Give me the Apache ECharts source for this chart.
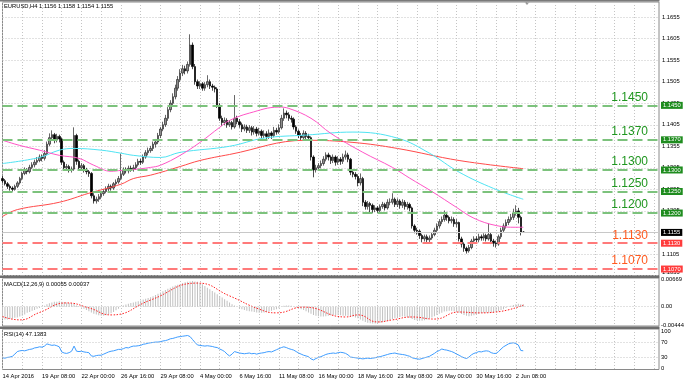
<!DOCTYPE html>
<html><head><meta charset="utf-8">
<script src="https://cdn.jsdelivr.net/npm/echarts/dist/echarts.min.js"></script>
<style>html,body{margin:0;padding:0;background:#fff}#c{width:685px;height:384px}</style>
</head><body><div id="c"></div>
<script>
// ---- data (prices in pips above 1.1000) ----
const opens = [280,275,268,262,258,255,262,270,280,292,
300,296,306,312,318,322,330,327,338,360,
375,382,370,378,372,318,305,308,300,302,
380,320,305,310,300,296,292,240,228,232,
238,245,250,256,262,258,268,272,280,290,
300,298,304,302,305,312,320,318,330,340,
345,350,360,365,380,395,405,420,440,455,
470,490,510,525,535,530,545,590,540,505,
495,500,490,498,505,495,492,488,450,420,
410,415,405,410,400,420,412,405,395,400,
392,398,388,395,385,390,380,384,378,386,
380,392,388,398,420,432,428,420,418,400,
390,380,375,385,378,375,330,300,305,310,
315,325,335,330,322,330,318,325,320,330,
335,325,295,290,285,270,280,225,215,222,
218,208,212,206,215,220,212,225,225,232,
220,228,218,225,215,220,212,170,160,158,
148,140,145,138,142,150,160,170,180,185,
195,190,182,185,175,178,140,128,118,112,
120,135,140,138,145,142,148,140,150,135,
130,128,145,160,170,178,185,190,200,205,
190,156];
const closes = [275,268,262,258,255,262,270,280,292,300,
296,306,312,318,322,330,327,338,360,375,
382,370,378,372,318,305,308,300,302,380,
320,305,310,300,296,292,240,228,232,238,
245,250,256,262,258,268,272,280,290,300,
298,304,302,305,312,320,318,330,340,345,
350,360,365,380,395,405,420,440,455,470,
490,510,525,535,530,545,590,540,505,495,
500,490,498,505,495,492,488,450,420,410,
415,405,410,400,420,412,405,395,400,392,
398,388,395,385,390,380,384,378,386,380,
392,388,398,420,432,428,420,418,400,390,
380,375,385,378,375,330,300,305,310,315,
325,335,330,322,330,318,325,320,330,335,
325,295,290,285,270,280,225,215,222,218,
208,212,206,215,220,212,225,225,232,220,
228,218,225,215,220,212,170,160,158,148,
140,145,138,142,150,160,170,180,185,195,
190,182,185,175,178,140,128,118,112,120,
135,140,138,145,142,148,140,150,135,130,
128,145,160,170,178,185,190,200,205,190,
156,155];
const highs = [286,279,272,266,262,266,274,284,296,306,
304,312,318,324,330,336,336,346,366,385,
392,386,384,382,375,322,314,312,308,399,
384,324,316,314,305,300,295,246,238,244,
250,256,262,268,266,272,278,286,338,306,
306,310,310,312,318,326,326,336,346,352,
356,366,372,386,400,412,428,446,462,478,
498,518,534,544,542,552,615,596,546,510,
506,504,504,520,510,500,496,492,455,426,
422,420,416,414,474,426,418,410,406,405,
404,402,402,400,398,394,392,390,394,390,
400,398,406,428,443,438,434,426,422,404,
394,386,392,390,384,378,334,312,316,322,
332,341,340,334,336,334,332,330,338,345,
340,328,300,295,290,292,284,230,228,226,
222,218,216,220,226,224,232,234,246,236,
234,232,232,230,226,224,215,174,166,162,
152,150,150,148,156,166,176,186,192,206,
200,194,192,190,186,180,145,132,122,126,
140,146,146,152,150,153,152,176,154,140,
136,150,166,176,185,192,198,210,218,212,
194,158];
const lows = [270,264,256,252,250,252,258,266,276,288,
290,292,302,306,312,318,320,322,334,355,
368,362,364,364,312,298,300,294,294,298,
312,300,300,294,290,284,234,222,222,226,
232,240,246,250,252,254,262,268,276,286,
292,292,296,296,300,308,312,314,326,334,
340,344,352,360,374,390,400,414,434,450,
464,484,504,518,522,524,540,534,498,488,
488,484,484,492,488,484,480,444,414,402,
404,398,400,394,396,406,398,388,390,386,
386,380,382,378,380,374,374,372,372,372,
376,382,384,394,414,420,414,410,394,384,
374,368,370,372,368,322,283,294,298,304,
310,320,322,314,316,310,312,312,314,324,
318,288,283,278,262,264,216,208,208,201,
200,202,200,202,210,206,208,218,220,214,
214,210,212,208,208,204,164,153,150,140,
132,134,132,132,138,146,154,164,174,180,
182,176,176,168,167,134,120,110,106,108,
116,129,132,132,136,136,134,136,128,122,
120,124,140,155,164,172,180,184,194,176,
148,154];
// moving averages: [bar index, pips]
const maPink = [[0,369],[7,357],[15,346],[23,334],[31,327],[37,311],[44,297],[48,299],[53,301],[60,306],[64,311],[72,334],[80,364],[88,399],[92,415],[100,432],[112,446],[116,443],[125,420],[133,385],[146,341],[158,306],[165,281],[174,250],[184,213],[191,188],[200,171],[208,167],[211,167]];
const maCyan = [[0,315],[15,329],[23,346],[29,350],[40,346],[48,339],[53,334],[64,329],[72,341],[92,355],[106,374],[123,381],[142,388],[160,374],[173,339],[185,295],[199,257],[211,232]];
const maRed = [[0,192],[6,208],[23,225],[35,246],[48,267],[53,280],[60,288],[72,308],[80,322],[92,336],[123,369],[142,364],[160,350],[185,322],[211,303]];
// MACD main (x0.0001) per bar, signal points [bar, x0.0001]
const macdMain = [-30,-31,-31,-30,-29,-27,-26,-24,-22,-19,
-15,-13,-10,-8,-5,-3,-1,2,6,8,
10,12,12,13,12,11,10,9,8,7,
3,1,-2,-5,-8,-11,-14,-17,-19,-21,
-22,-22,-21,-19,-16,-13,-9,-5,-1,3,
5,7,9,10,12,13,15,17,19,21,
23,25,28,31,34,37,40,43,46,49,
51,53,55,57,59,60,61,62,61,60,
57,54,50,46,42,38,34,30,26,22,
18,14,10,6,3,0,-3,-6,-8,-10,
-11,-12,-13,-14,-15,-15,-14,-13,-12,-10,
-8,-6,-4,-1,2,3,3,2,0,-2,
-4,-6,-8,-11,-14,-17,-20,-22,-23,-24,
-24,-23,-22,-21,-20,-20,-20,-21,-22,-22,
-22,-23,-24,-26,-28,-31,-34,-37,-39,-40,
-41,-41,-40,-39,-38,-36,-34,-32,-30,-28,
-26,-25,-24,-24,-25,-27,-30,-32,-33,-34,
-34,-33,-31,-28,-26,-23,-20,-17,-15,-12,
-11,-10,-10,-11,-13,-15,-18,-20,-22,-23,
-22,-21,-19,-18,-16,-15,-15,-14,-14,-14,
-13,-11,-8,-6,-3,-1,2,4,6,7,
6,5.5];
const macdSignal = [[0,-24],[7,-32],[15,-14],[26,9],[35,-3],[44,-20],[60,16],[79,57],[92,26],[104,-6],[111,-15],[122,-1],[139,-25],[144,-20],[152,-37],[158,-32],[166,-25],[175,-30],[185,-13],[193,-15],[200,-13],[211,3.7]];
const rsi = [28,27,29,30,32,38,45,47,48,47,
49,51,52,55,56,58,57,60,66,64,
62,63,61,58,44,41,40,42,46,60,
46,45,46,44,43,42,33,32,34,35,
35,38,41,44,46,47,49,51,51,53,
56,55,58,60,60,61,62,65,66,68,
69,70,71,71,72,74,75,77,80,81,
83,85,86,87,88,89,86,78,70,63,
62,61,60,61,60,59,57,56,52,49,
45,38,33,38,45,43,41,40,39,40,
41,39,40,38,40,41,42,44,45,44,
47,50,53,56,58,56,53,51,49,45,
41,38,35,33,31,25,22,26,29,31,
34,37,39,40,41,40,42,43,42,40,
36,30,29,28,27,26,25,26,27,26,
27,28,30,31,33,35,37,39,40,41,
39,38,37,36,34,32,28,26,25,24,
26,28,30,32,36,40,45,48,52,50,
49,47,45,42,38,35,31,28,26,30,
36,40,42,45,44,46,47,46,42,40,
40,45,52,58,62,66,68,69,67,63,
48,47.14];
const tickLabels = ['14 Apr 2016','19 Apr 08:00','22 Apr 00:00','26 Apr 16:00','29 Apr 08:00','4 May 00:00','6 May 16:00','11 May 08:00','16 May 00:00','18 May 16:00','23 May 08:00','26 May 00:00','30 May 16:00','2 Jun 08:00'];
const greenLevels = ['1.1450','1.1370','1.1300','1.1250','1.1200'];
const redLevels = ['1.1130','1.1070'];
const currentPrice = '1.1155';
const headerText = 'EURUSD,H4 1.1156 1.1158 1.1154 1.1155';
const macdText = 'MACD(12,26,9) 0.00055 0.00037';
const rsiText = 'RSI(14) 47.1383';

// ---- build ----
const NCAT = 267;
const cats = Array.from({length: NCAT}, (_, i) => String(i));
const P = v => +(1.1 + v / 10000).toFixed(5);
const candles = closes.map((c, i) => [P(opens[i]), P(c), P(lows[i]), P(highs[i])]);
const toPx = arr => arr.map(d => [d[0], P(d[1])]);
const FS = 5.8;
const GRIDC = '#c4c4c4';

const levelLines = [];
const mkLevel = (txt, lineCol, textCol, boxCol) => {
  levelLines.push({yAxis: +txt, lineStyle: {color: lineCol, type: [10, 5], width: 1.8},
    label: {show: true, position: 'insideEndTop', distance: [11, 2], formatter: txt, color: textCol, fontSize: 12}});
  levelLines.push({yAxis: +txt, lineStyle: {color: 'rgba(0,0,0,0)', width: 1},
    label: {show: true, position: 'end', distance: 2, formatter: txt, color: '#fff', fontSize: FS,
      backgroundColor: boxCol, padding: [1, 2, 0, 2]}});
};
greenLevels.forEach(t => mkLevel(t, '#7cc27c', '#1f961f', '#1f8c1f'));
redLevels.forEach(t => mkLevel(t, '#ff7a7a', '#ff5a1f', '#ff3c3c'));
levelLines.push({yAxis: +currentPrice, lineStyle: {color: '#c8c8c8', type: 'solid', width: 1},
  label: {show: true, position: 'end', distance: 2, formatter: currentPrice, color: '#fff', fontSize: FS,
    backgroundColor: '#000', padding: [1, 2, 0, 2]}});

const xAx = k => ({
  type: 'category', gridIndex: k, data: cats, boundaryGap: false,
  axisLine: {show: false}, axisTick: {show: false},
  axisLabel: {show: k === 2, interval: (i) => i % 16 === 0 && i / 16 < tickLabels.length,
    formatter: (v) => tickLabels[Math.round(+v / 16)] || '', align: 'left', fontSize: FS, color: '#000', margin: 4},
  splitLine: {show: true, interval: (i) => i % 8 === 0, lineStyle: {color: GRIDC, type: [1, 2], width: 1}}
});

const sideLabel = (v, txt, pad, line) => ({yAxis: v,
  lineStyle: line || {color: 'rgba(0,0,0,0)', width: 1},
  label: {show: true, position: 'end', distance: 2, formatter: txt, color: '#000', fontSize: FS, padding: pad || 0}});

const option = {
  animation: false,
  backgroundColor: '#fff',
  textStyle: {fontFamily: 'Liberation Sans'},
  title: [
    {text: headerText, left: 4, top: 3, padding: 0, textStyle: {fontSize: FS, fontWeight: 'normal', color: '#000'}},
    {text: macdText, left: 4, top: 281, padding: 0, textStyle: {fontSize: FS, fontWeight: 'normal', color: '#000'}},
    {text: rsiText, left: 4, top: 331, padding: 0, textStyle: {fontSize: FS, fontWeight: 'normal', color: '#000'}}
  ],
  grid: [
    {left: 2.5, right: 26, top: 2, height: 273.5, show: true, borderColor: '#8a8a8a', borderWidth: 1, outerBoundsMode: 'none'},
    {left: 2.5, right: 26, top: 278, height: 48, show: true, borderColor: '#8a8a8a', borderWidth: 1, outerBoundsMode: 'none'},
    {left: 2.5, right: 26, top: 329, height: 40.5, show: true, borderColor: '#8a8a8a', borderWidth: 1, outerBoundsMode: 'none'}
  ],
  xAxis: [xAx(0), xAx(1), xAx(2)],
  yAxis: [
    {type: 'value', gridIndex: 0, position: 'right', min: 1.1055, max: 1.169, interval: 0.005, scale: true,
      axisLine: {show: false}, axisTick: {show: false},
      axisLabel: {fontSize: FS, color: '#000', margin: 3, showMaxLabel: false, verticalAlignMinLabel: 'bottom',
        formatter: v => v.toFixed(4)},
      splitLine: {show: true, lineStyle: {color: GRIDC, type: [1, 2], width: 1}}},
    {type: 'value', gridIndex: 1, position: 'right', min: -0.00468, max: 0.00693,
      axisLine: {show: false}, axisTick: {show: false}, axisLabel: {show: false}, splitLine: {show: false}},
    {type: 'value', gridIndex: 2, position: 'right', min: -4.1, max: 106.8,
      axisLine: {show: false}, axisTick: {show: false}, axisLabel: {show: false}, splitLine: {show: false}}
  ],
  series: [
    {type: 'candlestick', xAxisIndex: 0, yAxisIndex: 0, data: candles, barWidth: 2, z: 2,
      itemStyle: {color: '#8c8c8c', color0: '#000', borderColor: '#262626', borderColor0: '#000', borderWidth: 0.7},
      markLine: {silent: true, precision: 6, symbol: ['none', 'none'], animation: false, data: levelLines}},
    {type: 'line', xAxisIndex: 0, yAxisIndex: 0, data: toPx(maRed), smooth: 0.4, showSymbol: false, z: 3,
      lineStyle: {color: '#ff4a4a', width: 1}},
    {type: 'line', xAxisIndex: 0, yAxisIndex: 0, data: toPx(maCyan), smooth: 0.4, showSymbol: false, z: 3,
      lineStyle: {color: '#4fe3f2', width: 1}},
    {type: 'line', xAxisIndex: 0, yAxisIndex: 0, data: toPx(maPink), smooth: 0.4, showSymbol: false, z: 3,
      lineStyle: {color: '#ff55c6', width: 1}},
    {type: 'bar', xAxisIndex: 1, yAxisIndex: 1, data: macdMain.map(v => v / 10000), barWidth: 1,
      itemStyle: {color: '#c0c0c0'},
      markLine: {silent: true, precision: 6, symbol: ['none', 'none'], animation: false, data: [
        sideLabel(0.00669, '0.00669', [6, 0, 0, 0]),
        sideLabel(0, '0.00', 0, {color: GRIDC, type: [1, 2], width: 1}),
        sideLabel(-0.00444, '-0.00444', [0, 0, 6, 0])
      ]}},
    {type: 'line', xAxisIndex: 1, yAxisIndex: 1, data: macdSignal.map(d => [d[0], d[1] / 10000]), smooth: 0.5,
      showSymbol: false, lineStyle: {color: '#ff2020', width: 1, type: [1.5, 1.5]}},
    {type: 'line', xAxisIndex: 2, yAxisIndex: 2, data: rsi, showSymbol: false,
      lineStyle: {color: '#3e9cff', width: 1},
      markLine: {silent: true, precision: 4, symbol: ['none', 'none'], animation: false, data: [
        sideLabel(100, '100'),
        sideLabel(70, '70', 0, {color: GRIDC, type: [1, 2], width: 1}),
        sideLabel(30, '30', 0, {color: GRIDC, type: [1, 2], width: 1}),
        sideLabel(0, '0')
      ]}}
  ],
  graphic: [
    {type: 'rect', shape: {x: 0, y: 0, width: 659.5, height: 1.5}, style: {fill: '#7a7a7a'}, silent: true},
    {type: 'rect', shape: {x: 0, y: 275.5, width: 659.5, height: 2.5}, style: {fill: '#6e6e6e'}, silent: true},
    {type: 'rect', shape: {x: 0, y: 326.5, width: 659.5, height: 2.5}, style: {fill: '#6e6e6e'}, silent: true},
    {type: 'polygon', shape: {points: [[524, 1.5], [530, 1.5], [527, 5]]}, style: {fill: '#9a9a9a'}, silent: true}
  ]
};
const chart = echarts.init(document.getElementById('c'), null, {renderer: 'canvas'});
chart.setOption(option);
</script></body></html>
